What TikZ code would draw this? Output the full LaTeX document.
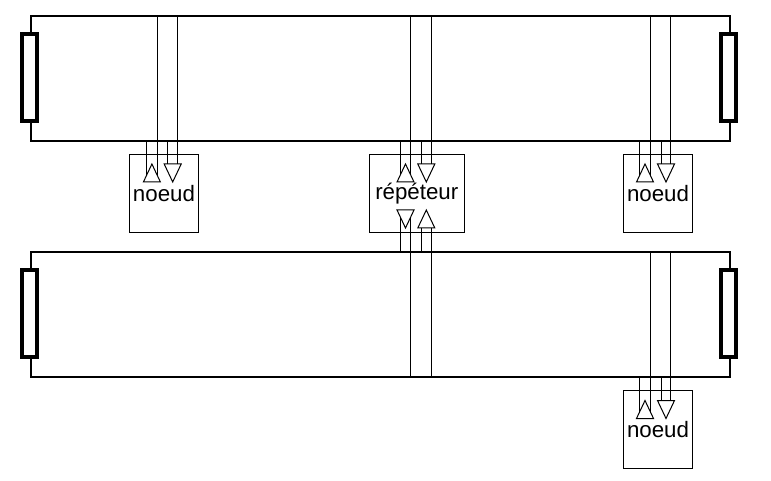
\documentclass[tikz,border=0pt]{standalone}
\usepackage{fontspec}
\setmainfont{Liberation Sans}
\usetikzlibrary{calc, shapes.geometric}

\begin{document}
\begin{tikzpicture}[
  x=1pt, y=-1pt, line width=1pt,
  bus/.style={rectangle, draw, line width=2pt, outer sep=0pt, minimum width=699pt, minimum height=125pt},
  terminator/.style={rectangle, draw, fill=white, line width=4pt, outer sep=0pt, minimum width=15.5pt, minimum height=87pt},
  station/.style={rectangle, draw, outer sep=0pt, inner sep=0pt, minimum height=78pt,
                  text centered, font=\fontsize{22.3}{26}\selectfont},
  arrowup/.style={isosceles triangle, isosceles triangle stretches, draw, outer sep=0pt, inner sep=0pt,
                  minimum width=17pt, minimum height=18pt, shape border rotate=90, anchor=apex},
  arrowdown/.style={arrowup, shape border rotate=270}
]
\useasboundingbox (0,0) rectangle (771,481);

\node[bus] (bus1) at (380.5,78.5)  {};
\node[bus] (bus2) at (380.5,314.5) {};
\node[terminator] (term1l) at (29.6,78)   {};
\node[terminator] (term1r) at (728.5,78)  {};
\node[terminator] (term2l) at (29.6,313.5)  {};
\node[terminator] (term2r) at (728.5,313.5) {};

\node[station, minimum width=69.5pt] (noeud1)   at (164,193.5)   {noeud};
\node[station, minimum width=94.5pt] (repeteur) at (416.8,193.5) {répéteur};
\node[station, minimum width=69.5pt] (noeud2)   at (658,193.5)   {noeud};
\node[station, minimum width=69.5pt] (noeud3)   at (658,429.7)   {noeud};

\node[arrowup]   (up1)   at (151.9,164)   {};
\node[arrowdown] (down1) at (172.7,182)   {};
\node[arrowup]   (up2)   at (405.5,164)   {};
\node[arrowdown] (down2) at (426.3,182)   {};
\node[arrowdown] (down3) at (405.5,228)   {};
\node[arrowup]   (up3)   at (426.3,210)   {};
\node[arrowup]   (up4)   at (645,164)     {};
\node[arrowdown] (down4) at (666,182)     {};
\node[arrowup]   (up5)   at (645,400.5)   {};
\node[arrowdown] (down5) at (666,418.5)   {};

% lines that stop on the slanted sides
\foreach \tri/\enda/\endb in {up1/bus1.south/bus1.north, up2/bus1.south/bus1.north,
                              up4/bus1.south/bus1.north, up5/bus2.south/bus2.north,
                              down3/bus2.south/bus2.north} {
  \coordinate (tapa) at ($(\tri.apex)!.62!(\tri.left corner)$);
  \coordinate (tapb) at ($(\tri.apex)!.62!(\tri.right corner)$);
  \draw (tapa |- \enda) -- (tapa);
  \draw (tapb |- \endb) -- (tapb);
}
% lines that stop on the flat base
\foreach \tri/\enda/\endb in {down1/bus1.north/bus1.south, down2/bus1.north/bus1.south,
                              down4/bus1.north/bus1.south, down5/bus2.north/bus2.south,
                              up3/bus2.north/bus2.south} {
  \coordinate (tapa) at ($(\tri.left corner)!.21!(\tri.right corner)$);
  \coordinate (tapb) at ($(\tri.right corner)!.21!(\tri.left corner)$);
  \draw (tapa |- \enda) -- (tapa);
  \draw (tapb |- \endb) -- (tapb);
}
\end{tikzpicture}
\end{document}
